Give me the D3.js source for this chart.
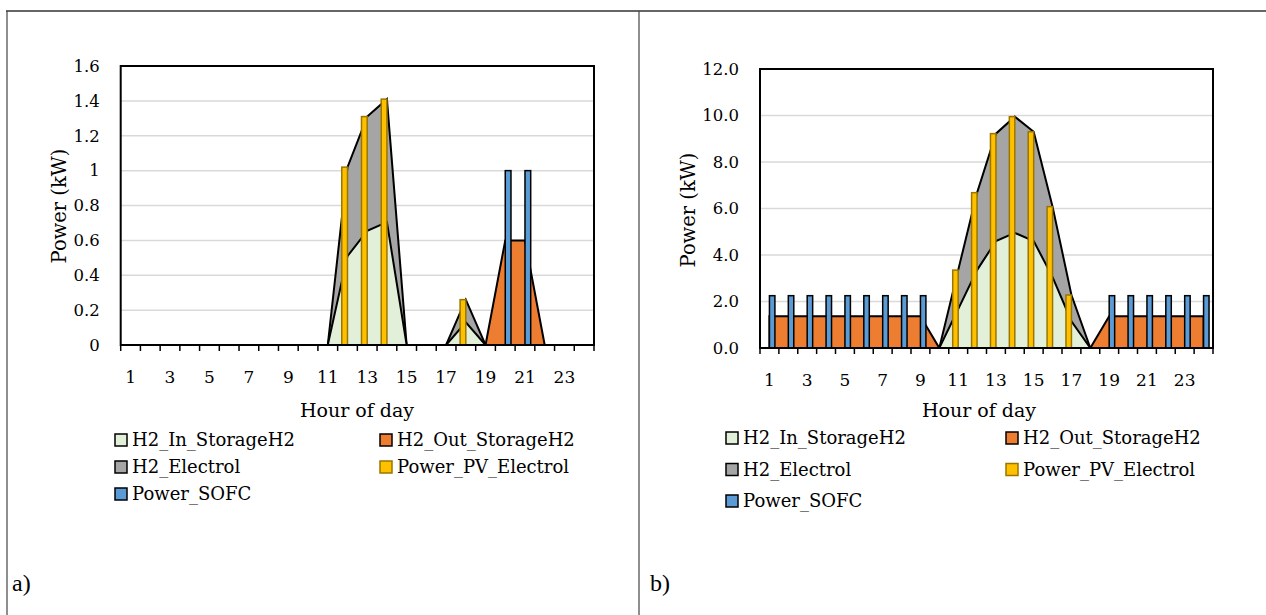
<!DOCTYPE html>
<html><head><meta charset="utf-8">
<script src="https://cdn.jsdelivr.net/npm/d3@7"></script>
<style>
body{margin:0;background:#fff}
svg{display:block}
text{font-family:"DejaVu Serif",serif;fill:#000}
</style></head>
<body><svg id="c" width="1266" height="615"></svg>
<script>
// ---------- data ----------
const hours = [1,2,3,4,5,6,7,8,9,10,11,12,13,14,15,16,17,18,19,20,21,22,23,24];
const xTickLabels = [1,3,5,7,9,11,13,15,17,19,21,23];
const seriesNames = ["H2_In_StorageH2","H2_Out_StorageH2","H2_Electrol","Power_PV_Electrol","Power_SOFC"];

// panel a)
const aYTicks = [0,0.2,0.4,0.6,0.8,1,1.2,1.4,1.6];
const aIn   = [0,0,0,0,0,0,0,0,0,0,0,0.51,0.655,0.705,0,0,0,0.13,0,0,0,0,0,0];
const aOut  = [0,0,0,0,0,0,0,0,0,0,0,0,0,0,0,0,0,0,0,0.6,0.6,0,0,0];
const aElec = [0,0,0,0,0,0,0,0,0,0,0,1.02,1.31,1.41,0,0,0,0.26,0,0,0,0,0,0];
const aPV   = [0,0,0,0,0,0,0,0,0,0,0,1.02,1.31,1.41,0,0,0,0.26,0,0,0,0,0,0];
const aSOFC = [0,0,0,0,0,0,0,0,0,0,0,0,0,0,0,0,0,0,0,1.0,1.0,0,0,0];

// panel b)
const bYTicks = [0,2,4,6,8,10,12];
const bIn   = [0,0,0,0,0,0,0,0,0,0,1.67,3.35,4.6,4.95,4.6,3.05,1.15,0,0,0,0,0,0,0];
const bOut  = [1.37,1.37,1.37,1.37,1.37,1.37,1.37,1.37,1.37,0,0,0,0,0,0,0,0,0,1.37,1.37,1.37,1.37,1.37,1.37];
const bElec = [0,0,0,0,0,0,0,0,0,0,3.35,6.68,9.22,9.95,9.3,6.08,2.28,0,0,0,0,0,0,0];
const bPV   = [0,0,0,0,0,0,0,0,0,0,3.35,6.68,9.22,9.95,9.3,6.08,2.28,0,0,0,0,0,0,0];
const bSOFC = [2.25,2.25,2.25,2.25,2.25,2.25,2.25,2.25,2.25,0,0,0,0,0,0,0,0,0,2.25,2.25,2.25,2.25,2.25,2.25];

// ---------- styles ----------
const COL = {
  In:  {fill:"#E2F0D9", stroke:"#000"},
  Out: {fill:"#ED7D31", stroke:"#000"},
  Elec:{fill:"#A5A5A5", stroke:"#000"},
  PV:  {fill:"#FFC000", stroke:"#9A7600"},
  SOFC:{fill:"#5B9BD5", stroke:"#000"}
};

const svg = d3.select("#c");

// outer table lines
svg.append("line").attr("x1",6).attr("x2",1266).attr("y1",11).attr("y2",11).attr("stroke","#333").attr("stroke-width",1.5);
svg.append("line").attr("x1",7).attr("x2",7).attr("y1",11).attr("y2",615).attr("stroke","#444").attr("stroke-width",1.2);
svg.append("line").attr("x1",639).attr("x2",639).attr("y1",11).attr("y2",615).attr("stroke","#444").attr("stroke-width",1.2);

function panel(cfg){
  const g = svg.append("g");
  const x = d3.scaleBand().domain(hours).range([cfg.left, cfg.right]).padding(0);
  const bw = x.bandwidth();
  const y = d3.scaleLinear().domain([0, cfg.yMax]).range([cfg.bottom, cfg.top]);
  const xs = d3.scaleBand().domain(["PV","SOFC"]).range([bw/2 - bw*0.29, bw/2 + bw*0.29]).padding(0);

  // gridlines
  g.append("g").selectAll("line").data(cfg.yTicks.filter(t=>t>0 && t<cfg.yMax)).join("line")
    .attr("x1",cfg.left).attr("x2",cfg.right).attr("y1",d=>y(d)).attr("y2",d=>y(d))
    .attr("stroke","#d9d9d9").attr("stroke-width",1.5);

  const area = d3.area().x((d,i)=>x(hours[i])+bw/2).y0(y(0)).y1(d=>y(d));
  [["Elec",cfg.elec],["In",cfg.inn],["Out",cfg.out]].forEach(([k,vals])=>{
    g.append("path").datum(vals).attr("d",area)
      .attr("fill",COL[k].fill).attr("stroke",COL[k].stroke).attr("stroke-width",2)
      .attr("stroke-linejoin","miter");
  });

  // bars
  [["PV",cfg.pv],["SOFC",cfg.sofc]].forEach(([k,vals])=>{
    g.append("g").selectAll("rect").data(vals.map((v,i)=>({h:hours[i],v})).filter(d=>d.v>0)).join("rect")
      .attr("x",d=>x(d.h)+xs(k)).attr("width",xs.bandwidth())
      .attr("y",d=>y(d.v)).attr("height",d=>y(0)-y(d.v))
      .attr("fill",COL[k].fill).attr("stroke",COL[k].stroke).attr("stroke-width",1.5);
  });

  // frame
  g.append("rect").attr("x",cfg.left).attr("y",cfg.top).attr("width",cfg.right-cfg.left).attr("height",cfg.bottom-cfg.top)
    .attr("fill","none").attr("stroke","#000").attr("stroke-width",2);

  // x axis ticks at category boundaries
  const bounds = hours.map(h=>x(h)).concat([cfg.right]);
  g.append("g").selectAll("line").data(bounds).join("line")
    .attr("x1",d=>d).attr("x2",d=>d).attr("y1",y(0)).attr("y2",y(0)+6)
    .attr("stroke","#000").attr("stroke-width",1.5);
  g.append("g").selectAll("text").data(xTickLabels).join("text")
    .attr("x",d=>x(d)+bw/2).attr("y",cfg.xLabelY).attr("text-anchor","middle")
    .style("font-size","17px").text(d=>d);

  // y ticks labels
  g.append("g").selectAll("text").data(cfg.yTicks).join("text")
    .attr("x",cfg.left-21).attr("y",d=>y(d)).attr("dy","0.35em").attr("text-anchor","end")
    .style("font-size","16.5px").text(cfg.fmt);

  // axis titles
  g.append("text").attr("x",cfg.xTitleX).attr("y",cfg.xTitleY).attr("text-anchor","middle")
    .style("font-size","19px").text("Hour of day");
  g.append("text").attr("transform",`translate(${cfg.yTitleX},${cfg.yTitleY}) rotate(-90)`)
    .attr("text-anchor","middle").style("font-size","19.5px").text("Power (kW)");

  // legend
  const keys = ["In","Out","Elec","PV","SOFC"];
  keys.forEach((k,i)=>{
    const col = i%2, row = Math.floor(i/2);
    const lx = cfg.legX[col], ly = cfg.legY + row*cfg.legDY;
    g.append("rect").attr("x",lx).attr("y",ly-6).attr("width",12).attr("height",12)
      .attr("fill",COL[k].fill).attr("stroke",COL[k].stroke).attr("stroke-width",1.5);
    g.append("text").attr("x",lx+17).attr("y",ly).attr("dy","0.36em")
      .style("font-size","18px").text(seriesNames[i]);
  });

  svg.append("text").attr("x",cfg.tagX).attr("y",591).style("font-family","Liberation Serif, serif")
    .style("font-size","24px").text(cfg.tag);
}

panel({left:120.7,right:594,top:66,bottom:345,yMax:1.6,yTicks:aYTicks,fmt:d=>String(d),
  inn:aIn,out:aOut,elec:aElec,pv:aPV,sofc:aSOFC,
  xLabelY:383,xTitleX:357,xTitleY:417,yTitleX:66,yTitleY:206,
  legX:[115,380],legY:440,legDY:27,tag:"a)",tagX:12});

panel({left:760,right:1213,top:69,bottom:348,yMax:12,yTicks:bYTicks,fmt:d3.format(".1f"),
  inn:bIn,out:bOut,elec:bElec,pv:bPV,sofc:bSOFC,
  xLabelY:386,xTitleX:979,xTitleY:417,yTitleX:695,yTitleY:210,
  legX:[726,1006],legY:438,legDY:31.5,tag:"b)",tagX:650});
</script></body></html>
